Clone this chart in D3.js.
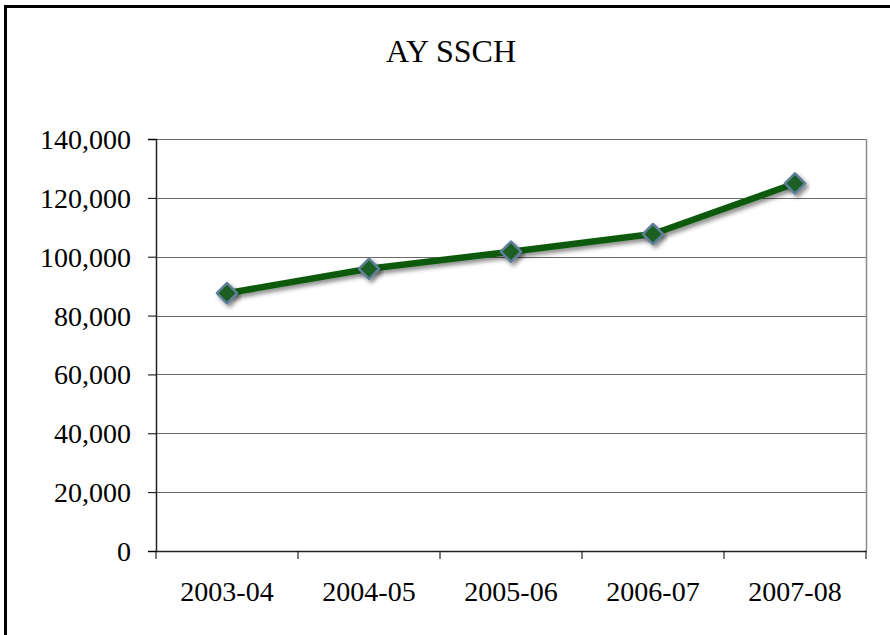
<!DOCTYPE html>
<html>
<head>
<meta charset="utf-8">
<script src="https://cdn.jsdelivr.net/npm/d3@7"></script>
<style>
  body { margin: 0; background: #fff; }
  text { font-family: "Liberation Serif", "DejaVu Serif", serif; fill: #000; }
</style>
</head>
<body>
<div id="chart"></div>
<script>
// data
var years = ["2003-04", "2004-05", "2005-06", "2006-07", "2007-08"];
var ssch = [87600, 95900, 101700, 107700, 124900];
var yTicks = [0, 20000, 40000, 60000, 80000, 100000, 120000, 140000];
var title = "AY SSCH";

var width = 890, height = 635;
var margin = {left: 156, right: 24, top: 139, bottom: 84};

var svg = d3.select("#chart").append("svg").attr("width", width).attr("height", height);

// outer frame, runs off right and bottom edges
svg.append("rect").attr("x", 5.5).attr("y", 6.5).attr("width", 900).attr("height", 700)
  .attr("fill", "none").attr("stroke", "#000").attr("stroke-width", 3);

var defs = svg.append("defs");
var sh = defs.append("filter").attr("id", "shadow").attr("x", "-20%").attr("y", "-50%").attr("width", "140%").attr("height", "200%");
sh.append("feDropShadow").attr("dx", 2.5).attr("dy", 3).attr("stdDeviation", 2).attr("flood-color", "#000").attr("flood-opacity", 0.45);

var x = d3.scaleBand().domain(years).range([margin.left, width - margin.right]);
var y = d3.scaleLinear().domain([0, 140000]).range([height - margin.bottom, margin.top]);

svg.append("text").attr("x", 451).attr("y", 62).attr("text-anchor", "middle")
  .style("font-size", "32px").text(title);

// gridlines
svg.append("g").selectAll("line").data(yTicks).enter().append("line")
  .attr("x1", margin.left).attr("x2", width - margin.right)
  .attr("y1", function(d) { return Math.round(y(d)) + 0.5; })
  .attr("y2", function(d) { return Math.round(y(d)) + 0.5; })
  .attr("stroke", "#6a6a6a").attr("stroke-width", 1.2);

// right edge of plot area
svg.append("line").attr("x1", width - margin.right + 0.5).attr("x2", width - margin.right + 0.5)
  .attr("y1", y(140000)).attr("y2", y(0)).attr("stroke", "#8a8a8a").attr("stroke-width", 1.5);

var fmt = d3.format(",");
var yAxis = svg.append("g").attr("transform", "translate(" + margin.left + ",0)")
  .call(d3.axisLeft(y).tickValues(yTicks).tickFormat(fmt).tickSize(8).tickPadding(17));
yAxis.selectAll("text").style("font-size", "28px").attr("dy", "0.34em");

var xAxis = svg.append("g").attr("transform", "translate(0," + y(0) + ")")
  .call(d3.axisBottom(x).tickSize(0).tickPadding(50));
xAxis.selectAll("text").style("font-size", "28px").attr("dy", "0");
xAxis.selectAll(".tick line").remove();
// category separator ticks
xAxis.selectAll(".sep").data(years.concat(["end"])).enter().append("line").attr("class", "sep")
  .attr("x1", function(d, i) { return i < years.length ? x(d) : x.range()[1]; })
  .attr("x2", function(d, i) { return i < years.length ? x(d) : x.range()[1]; })
  .attr("y1", 0).attr("y2", 8).attr("stroke", "#000");

svg.selectAll(".domain").attr("stroke", "#222").attr("stroke-width", 1.5);

var line = d3.line()
  .x(function(d, i) { return x(years[i]) + x.bandwidth() / 2; })
  .y(function(d) { return y(d); });

svg.append("path").datum(ssch).attr("d", line)
  .attr("fill", "none").attr("stroke", "#0f5a10").attr("stroke-width", 6.5)
  .attr("stroke-linejoin", "round").attr("filter", "url(#shadow)");

svg.append("g").selectAll("path").data(ssch).enter().append("path")
  .attr("d", d3.symbol().type(d3.symbolDiamond2).size(260))
  .attr("transform", function(d, i) { return "translate(" + (x(years[i]) + x.bandwidth() / 2) + "," + y(d) + ")"; })
  .attr("fill", "#1b5e22").attr("stroke", "#5f7f99").attr("stroke-width", 2.5)
  .attr("stroke-linejoin", "round").attr("filter", "url(#shadow)");
</script>
</body>
</html>
